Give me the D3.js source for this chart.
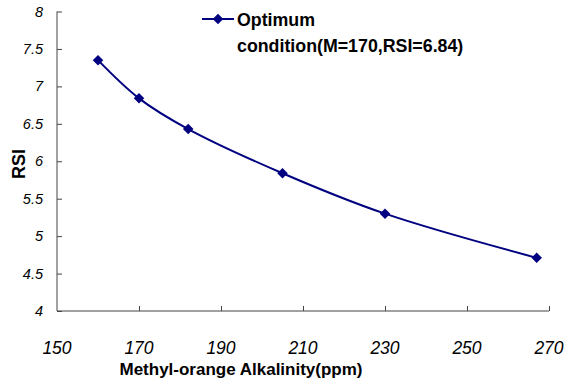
<!DOCTYPE html>
<html>
<head>
<meta charset="utf-8">
<script src="https://cdn.jsdelivr.net/npm/d3@7"></script>
<style>
  body { margin: 0; background: #fff; }
  text { font-family: "Liberation Sans", Arial, sans-serif; fill: #000; }
</style>
</head>
<body>
<div id="chart"></div>
<script>
// chart values
var alkalinity = [160, 170, 182, 205, 230, 267];
var rsi = [7.35, 6.84, 6.43, 5.84, 5.30, 4.71];
var xTicks = [150, 170, 190, 210, 230, 250, 270];
var yTicks = [4, 4.5, 5, 5.5, 6, 6.5, 7, 7.5, 8];
var seriesName = ["Optimum", "condition(M=170,RSI=6.84)"];

var width = 573, height = 379;
var margin = { top: 11.5, right: 24, bottom: 68, left: 57 };

var svg = d3.select("#chart")
    .append("svg")
    .attr("width", width)
    .attr("height", height);

var x = d3.scaleLinear()
    .domain([150, 270])
    .range([margin.left, width - margin.right]);

var y = d3.scaleLinear()
    .domain([4, 8])
    .range([height - margin.bottom, margin.top]);

var axisColor = "#444";
var lineColor = "#000080";

// y axis (ticks point inward like the original)
var gy = svg.append("g")
    .attr("transform", "translate(" + x(150) + ",0)")
    .call(d3.axisRight(y).tickValues(yTicks).tickSize(5).tickFormat(""));
gy.select(".domain").attr("stroke", axisColor).attr("d", "M0," + y(4) + "V" + y(8));
gy.selectAll(".tick line").attr("stroke", axisColor);

svg.append("g")
    .selectAll("text")
    .data(yTicks)
    .enter()
    .append("text")
    .attr("x", x(150) - 14)
    .attr("y", function (d) { return y(d); })
    .attr("dy", "0.35em")
    .attr("text-anchor", "end")
    .style("font-size", "14.5px")
    .style("font-style", "italic")
    .text(function (d) { return d; });

// x axis
var gx = svg.append("g")
    .attr("transform", "translate(0," + y(4) + ")")
    .call(d3.axisTop(x).tickValues(xTicks).tickSize(5).tickFormat(""));
gx.select(".domain").attr("stroke", axisColor).attr("d", "M" + x(150) + ",0H" + x(270));
gx.selectAll(".tick line").attr("stroke", axisColor);
gx.selectAll(".tick").filter(function (d) { return d === 150; }).remove();

svg.append("g")
    .selectAll("text")
    .data(xTicks)
    .enter()
    .append("text")
    .attr("x", function (d) { return x(d); })
    .attr("y", 354)
    .attr("text-anchor", "middle")
    .style("font-size", "17.5px")
    .style("font-style", "italic")
    .text(function (d) { return d; });

// axis titles
svg.append("text")
    .attr("x", 241)
    .attr("y", 375)
    .attr("text-anchor", "middle")
    .style("font-size", "17px")
    .style("font-weight", "bold")
    .text("Methyl-orange Alkalinity(ppm)");

svg.append("text")
    .attr("transform", "translate(25,164) rotate(-90)")
    .attr("text-anchor", "middle")
    .style("font-size", "18px")
    .style("font-weight", "bold")
    .text("RSI");

// series
var points = alkalinity.map(function (d, i) { return { x: d, y: rsi[i] }; });

var line = d3.line()
    .x(function (d) { return x(d.x); })
    .y(function (d) { return y(d.y); })
    .curve(d3.curveCatmullRom.alpha(0.5));

svg.append("path")
    .datum(points)
    .attr("fill", "none")
    .attr("stroke", lineColor)
    .attr("stroke-width", 2)
    .attr("d", line);

var diamond = d3.symbol().type(d3.symbolDiamond2).size(70);

svg.append("g")
    .selectAll("path")
    .data(points)
    .enter()
    .append("path")
    .attr("d", diamond)
    .attr("fill", lineColor)
    .attr("transform", function (d) { return "translate(" + x(d.x) + "," + y(d.y) + ")"; });

// legend
svg.append("line")
    .attr("x1", 202).attr("x2", 234)
    .attr("y1", 19).attr("y2", 19)
    .attr("stroke", lineColor)
    .attr("stroke-width", 2);
svg.append("path")
    .attr("d", diamond)
    .attr("fill", lineColor)
    .attr("transform", "translate(218,19)");

svg.append("g")
    .selectAll("text")
    .data(seriesName)
    .enter()
    .append("text")
    .attr("x", 237)
    .attr("y", function (d, i) { return 26 + i * 26; })
    .style("font-size", "17.8px")
    .style("font-weight", "bold")
    .text(function (d) { return d; });
</script>
</body>
</html>
